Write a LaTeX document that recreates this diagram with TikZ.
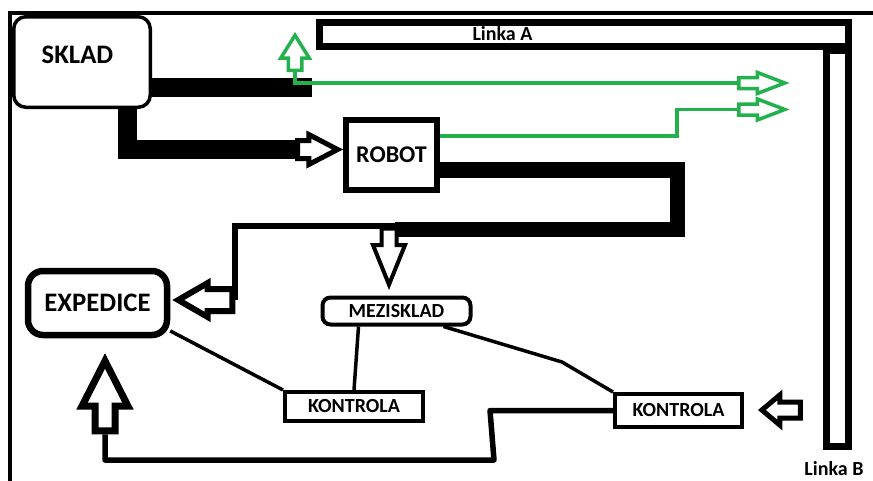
\documentclass[tikz,border=0pt]{standalone}
\usepackage{fontspec}
\setmainfont{Carlito}
\usetikzlibrary{positioning,calc,shapes.arrows}
\definecolor{paintGreen}{HTML}{22B14C}

\begin{document}
\begin{tikzpicture}[x=1pt,y=-1pt,line join=miter,
    bigtext/.style={font=\fontsize{26.7}{28}\selectfont\bfseries},
    midtext/.style={font=\fontsize{24}{26}\selectfont\bfseries},
    smalltext/.style={font=\fontsize{20}{22}\selectfont\bfseries},
    hollow/.style={single arrow,draw,fill=white,inner sep=#1},
    greenarrow/.style={hollow=3.75pt,draw=paintGreen,line width=3.5pt,single arrow head extend=5pt,single arrow tip angle=42,minimum height=46pt},
    greenline/.style={draw=paintGreen,line width=3.5pt},
    thinbox/.style={draw,line width=4pt,inner sep=0pt},
    thinline/.style={line width=3.5pt}]
  \useasboundingbox (0,0) rectangle (873,480);
  % frame
  \draw[line width=4pt] (10,481) -- (10,13) -- (874,13);

  % lines A and B
  \node[draw,fill=white,line width=7pt,minimum width=22pt,minimum height=396pt] (linkaB) at (837.5,248.5) {};
  \node[draw,fill=white,line width=7pt,minimum width=529pt,minimum height=24pt] (linkaA) at (584,34.5) {};
  \node[smalltext] (linkaAtext) at (502.5,34) {Linka A};
  \node[smalltext] (linkaBtext) at (834,469) {Linka B};

  % boxes
  \node[draw,line width=3.5pt,rounded corners=12pt,minimum width=136.5pt,minimum height=90.5pt] (sklad) at (82,62) {};
  \node[bigtext] (skladtext) at (77.5,54.5) {SKLAD};
  \node[draw,line width=6pt,minimum width=91pt,minimum height=70pt,midtext] (robot) at (391.5,155) {ROBOT};
  \node[draw,line width=6.5pt,rounded corners=15pt,minimum width=139pt,minimum height=64pt,bigtext] (expedice) at (97.5,303) {EXPEDICE};
  \node[thinbox,rounded corners=8pt,minimum width=148pt,minimum height=27pt,smalltext] (mezisklad) at (396.5,311) {MEZISKLAD};
  \node[thinbox,minimum width=138pt,minimum height=29pt,smalltext] (kontrola1) at (354,406.5) {KONTROLA};
  \node[thinbox,minimum width=127pt,minimum height=33pt,smalltext] (kontrola2) at (678.5,410.5) {KONTROLA};

  % hollow arrows
  \node[hollow=6.5pt,line width=5pt,single arrow head extend=6pt,single arrow tip angle=55,minimum height=40pt,anchor=tip] (toRobot) at ($(robot.west)+(0,-5.5)$) {};
  \node[hollow=8pt,line width=6pt,single arrow head extend=6pt,single arrow tip angle=60,minimum height=54pt,shape border rotate=180,anchor=tip] (toExpedice) at ($(expedice.east)+(2,-3)$) {};
  \node[hollow=6.5pt,line width=7pt,single arrow head extend=13pt,single arrow tip angle=54,minimum height=70pt,shape border rotate=90,anchor=tip] (fromKontrola) at ($(expedice.south)+(7.5,15)$) {};
  \node[hollow=5.5pt,line width=5pt,single arrow head extend=7pt,single arrow tip angle=80,minimum height=38.5pt,shape border rotate=180,anchor=tip] (fromLinkaB) at ($(kontrola2.east)+(14,-0.5)$) {};

  % thick bars
  \coordinate (barA) at (312,87);
  \draw[line width=19pt] (sklad.east |- barA) -- (barA);
  \coordinate (skladTurn) at (127.5,149.5);
  \draw[line width=19pt] (sklad.south -| skladTurn) |- (toRobot.tail);
  \coordinate (robotTurn) at (677.5,170);
  \coordinate (barEnd) at (395,229.5);
  \draw[line width=15.5pt] (robot.east |- robotTurn) -- (robotTurn) |- (barEnd);
  \draw[line width=6pt] ($(barEnd)+(10,-3.5)$) -| (toExpedice.tail);
  \node[hollow=5.5pt,line width=4pt,single arrow head extend=8.5pt,single arrow tip angle=44,minimum height=56pt,shape border rotate=270,anchor=tip] (toMezisklad) at ($(mezisklad.north)+(-7.5,-5.5)$) {};

  % green lines
  \node[hollow=5pt,draw=paintGreen,line width=3.5pt,single arrow head extend=7.5pt,single arrow tip angle=64,minimum height=35pt,shape border rotate=90,anchor=tail] (greenUp) at (295,72) {};
  \node[greenarrow,anchor=tail] (greenA) at (737,83) {};
  \node[greenarrow,anchor=tail] (greenB) at (737,109.5) {};
  \draw[greenline] (greenUp.tail) |- (greenA.tail);
  \coordinate (greenTurn) at (677,136);
  \draw[greenline] (robot.east |- greenTurn) -- (greenTurn) |- (greenB.tail);

  % control lines
  \draw[thinline] (expedice.-21) -- (kontrola1.north west);
  \draw[thinline] ($(mezisklad.south)+(-38,0)$) -- (kontrola1.north);
  \coordinate (mezBend) at (562,362);
  \draw[thinline] ($(mezisklad.south)+(47,0)$) -- (mezBend) -- (kontrola2.north west);
  \coordinate (jogTop) at (490,410.5);
  \coordinate (jogBottom) at (494,460);
  \draw[line width=5.5pt,line join=round] (kontrola2.west) -- (jogTop) -- (jogBottom) -| (fromKontrola.tail);
\end{tikzpicture}
\end{document}
